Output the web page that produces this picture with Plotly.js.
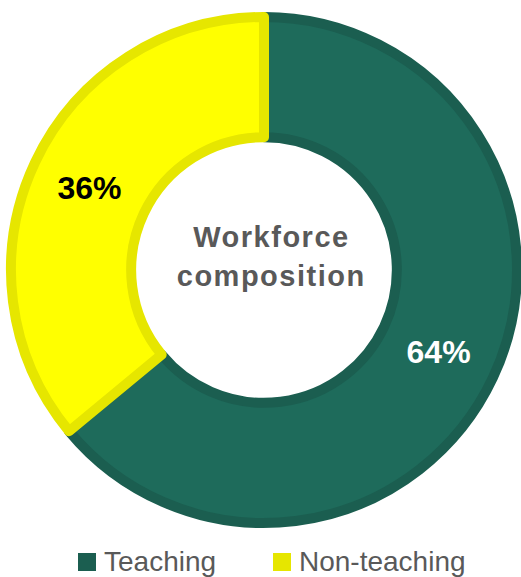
<!DOCTYPE html>
<html>
<head>
<meta charset="utf-8">
<script src="https://cdn.plot.ly/plotly-3.0.1.min.js"></script>
<style>
  html, body { margin: 0; padding: 0; background: #fff; }
  #chart { width: 521px; height: 577px; }
  .title-line .annotation-text { letter-spacing: 1.5px; }
</style>
</head>
<body>
<div id="chart"></div>
<script>
const categories = ["Teaching", "Non-teaching"];
const shares = [64, 36];
const fillColors = ["#1E6B5B", "#FFFF00"];
const borderColors = ["#1B5E50", "#E6E600"];
const labelColors = ["#FFFFFF", "#000000"];
const centerTitleLines = ["Workforce", "composition"];

const W = 521, H = 577;
const cx = 264, cy = 270, r = 253;
const px = v => v / W;
const py = v => (H - v) / H;

const pie = {
  type: "pie",
  labels: categories,
  values: shares,
  sort: false,
  direction: "clockwise",
  rotation: 0,
  hole: 0.525,
  marker: { colors: fillColors, line: { color: borderColors, width: 10 } },
  texttemplate: "%{value}%",
  textposition: "inside",
  insidetextorientation: "horizontal",
  textfont: { family: "Liberation Sans, Arial, sans-serif", size: 32, color: labelColors, weight: "bold" },
  hoverinfo: "none",
  showlegend: false,
  domain: { x: [px(cx - r), px(cx + r)], y: [py(cy + r), py(cy - r)] }
};

// legend (drawn as shapes + text)
const legendSquareX = [78, 273];
const legendTextX = [102, 297];
const legendTop = 553, legendSize = 18;
const shapes = categories.map((c, i) => ({
  type: "rect", xref: "paper", yref: "paper",
  x0: px(legendSquareX[i]), x1: px(legendSquareX[i] + legendSize),
  y0: py(legendTop + legendSize), y1: py(legendTop),
  fillcolor: borderColors[i], line: { width: 0 }
}));
const legendAnnots = categories.map((c, i) => ({
  text: c, xref: "paper", yref: "paper",
  x: px(legendTextX[i]), y: py(561), xanchor: "left", yanchor: "middle",
  showarrow: false,
  font: { family: "Liberation Sans, Arial, sans-serif", size: 28, color: "#595959" }
}));

const titleBaselines = [247, 286];
const titleAnnots = centerTitleLines.map((t, i) => ({
  text: t, xref: "paper", yref: "paper",
  x: px(271), y: py(titleBaselines[i] - 10), xanchor: "center", yanchor: "middle",
  showarrow: false,
  font: { family: "Liberation Sans, Arial, sans-serif", size: 29, color: "#595959", weight: "bold" }
}));

const layout = {
  width: W, height: H,
  margin: { l: 0, r: 0, t: 0, b: 0 },
  paper_bgcolor: "#ffffff",
  showlegend: false,
  shapes: shapes,
  annotations: [...titleAnnots, ...legendAnnots]
};

Plotly.newPlot("chart", [pie], layout, { staticPlot: true, displayModeBar: false }).then(() => {
  document.querySelectorAll(".annotation").forEach((el, i) => {
    if (i < centerTitleLines.length) el.classList.add("title-line");
  });
});
</script>
</body>
</html>
